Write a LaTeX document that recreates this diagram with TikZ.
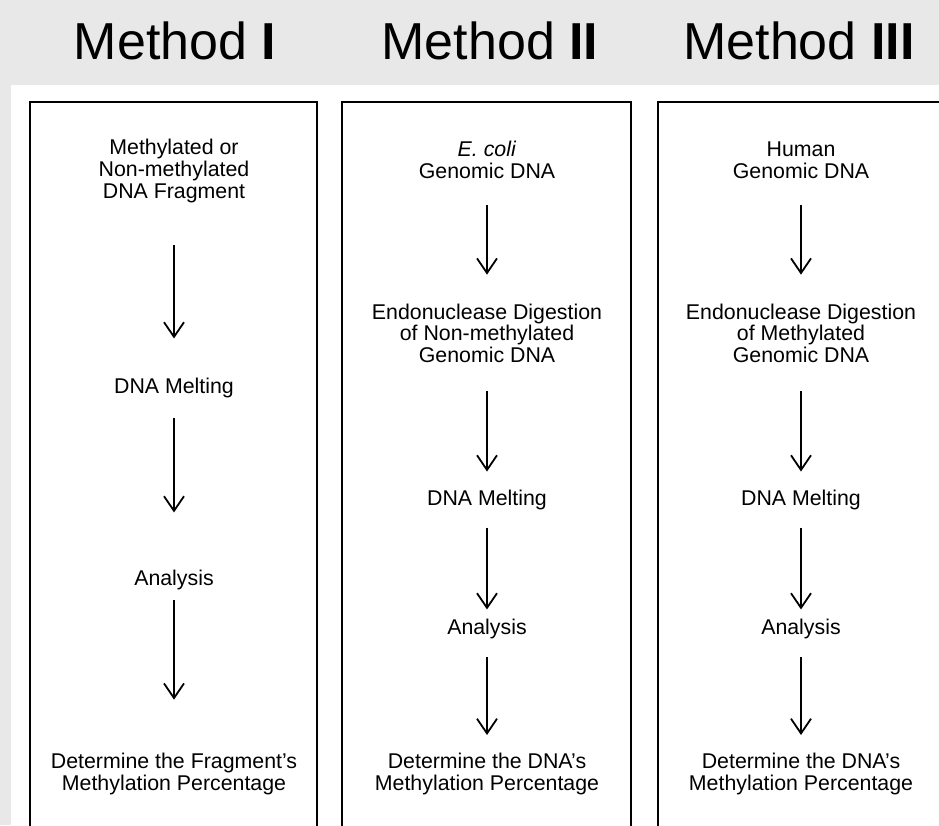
\documentclass[tikz,border=0pt]{standalone}
\usepackage{fontspec}
\setmainfont{Liberation Sans}
\usetikzlibrary{arrows.meta}
\definecolor{bggray}{RGB}{232,232,232}
\begin{document}
\begin{tikzpicture}[x=0.75pt, y=-0.75pt,
    stage/.style={align=center, inner sep=0pt, font=\fontsize{16}{16.2}\selectfont},
    head/.style={inner sep=0pt, font=\fontsize{39}{44}\selectfont},
    flow/.style={line width=1.35pt, -{Straight Barb[length=11pt, width=15pt]}},
    frame/.style={line width=1.7pt}]
  \useasboundingbox (0,0) rectangle (939,825);
  \clip (0,0) rectangle (939,825);
  %
  \fill[bggray] (0,0) rectangle (939,825);     % page
  \fill[white] (11,85) rectangle (939,825);    % panel
  %
  \draw[frame] (30,830) -- (30,102) -- (317,102) -- (317,830);     % method I
  \draw[frame] (342,830) -- (342,102) -- (631,102) -- (631,830);   % method II
  \draw[frame] (658,830) -- (658,102) -- (946,102) -- (946,830);   % method III
  %
  \node[head] (h1) at (175,41) {Method \textbf{I}};
  \node[head] (h2) at (490,41) {Method \textbf{II}};
  \node[head] (h3) at (799,41) {Method \textbf{III}};
  %% method I
  \node[stage] (m1a) at (174,171) {Methylated or\\Non-methylated\\DNA Fragment};
  \node[stage] (m1b) at (174,388) {DNA Melting};
  \node[stage] (m1c) at (174,580) {Analysis};
  \node[stage] (m1d) at (174,774) {Determine the Fragment's\\Methylation Percentage};
  \draw[flow, shorten <=32pt, shorten >=29.5pt] (m1a) -- (m1b);
  \draw[flow, shorten <=15pt, shorten >=43pt] (m1b) -- (m1c);
  \draw[flow, shorten <=7.5pt, shorten >=40pt] (m1c) -- (m1d);
  %% method II
  \node[stage] (m2a) at (487,160) {\textit{E. coli}\\Genomic DNA};
  \node[stage] (m2b) at (487,333) {Endonuclease Digestion\\of Non-methylated\\Genomic DNA};
  \node[stage] (m2c) at (487,500) {DNA Melting};
  \node[stage] (m2d) at (487,629) {Analysis};
  \node[stage] (m2e) at (487,774) {Determine the DNA's\\Methylation Percentage};
  \draw[flow, shorten <=19.5pt, shorten >=21.5pt] (m2a) -- (m2b);
  \draw[flow, shorten <=21.5pt, shorten >=13.7pt] (m2b) -- (m2c);
  \draw[flow, shorten <=13pt, shorten >=7pt] (m2c) -- (m2d);
  \draw[flow, shorten <=13.7pt, shorten >=13.5pt] (m2d) -- (m2e);
  %% method III
  \node[stage] (m3a) at (801,160) {Human\\Genomic DNA};
  \node[stage] (m3b) at (801,333) {Endonuclease Digestion\\of Methylated\\Genomic DNA};
  \node[stage] (m3c) at (801,500) {DNA Melting};
  \node[stage] (m3d) at (801,629) {Analysis};
  \node[stage] (m3e) at (801,774) {Determine the DNA's\\Methylation Percentage};
  \draw[flow, shorten <=19.5pt, shorten >=21.5pt] (m3a) -- (m3b);
  \draw[flow, shorten <=21.5pt, shorten >=13.7pt] (m3b) -- (m3c);
  \draw[flow, shorten <=13pt, shorten >=7pt] (m3c) -- (m3d);
  \draw[flow, shorten <=13.7pt, shorten >=13.5pt] (m3d) -- (m3e);
  %
\end{tikzpicture}
\end{document}
